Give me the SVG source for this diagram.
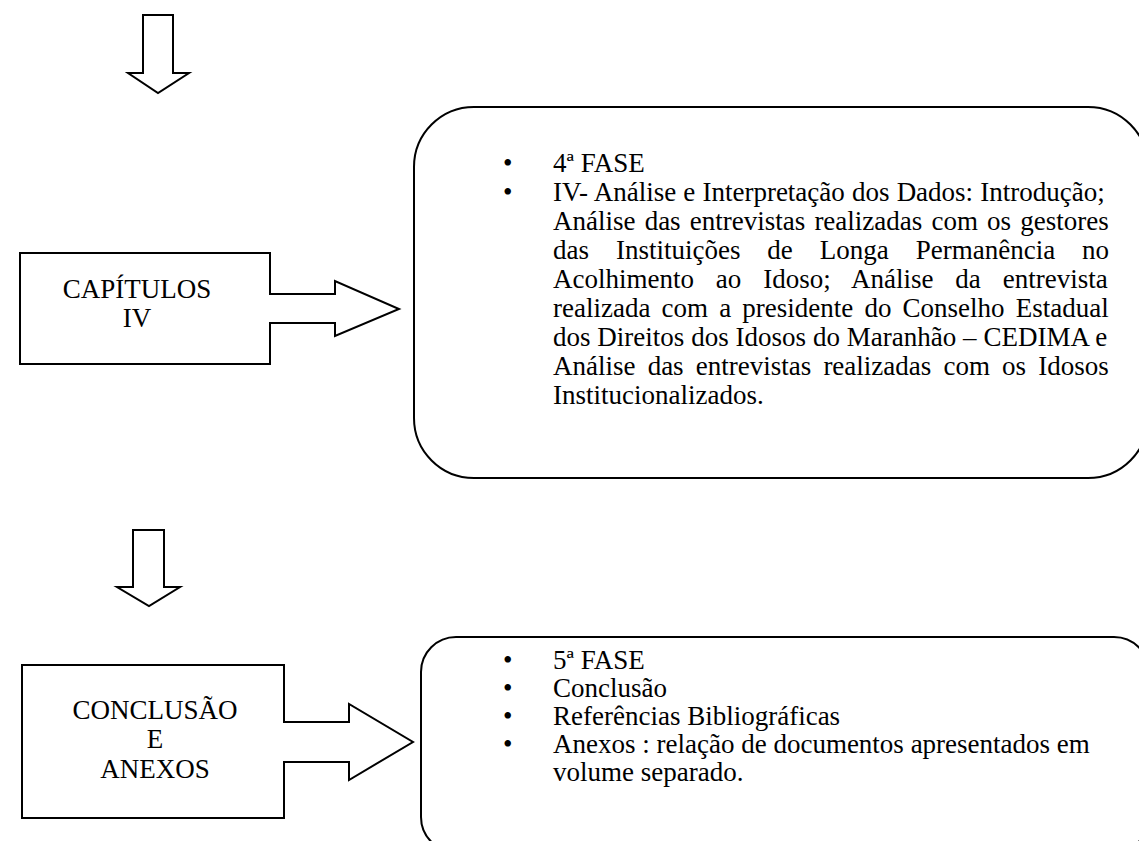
<svg xmlns="http://www.w3.org/2000/svg" width="1139" height="841" viewBox="0 0 1139 841">
<style>
.s{fill:#fff;stroke:#000;stroke-width:2;stroke-linejoin:miter}
.t{font-family:"Liberation Serif","Times New Roman","DejaVu Serif",serif;font-size:27px;fill:#000}
.c{text-anchor:middle}
</style>
<rect width="1139" height="841" fill="#fff"/>
<g id="connectors">
<polygon class="s" points="143,15 173,15 173,73 189,73 158,93 128,73 143,73"/>
<polygon class="s" points="133,530 164,530 164,587 180,587 149,606 117,587 133,587"/>
</g>
<g id="cap4">
<polygon class="s" points="20,253 270,253 270,294 335,294 335,281 399,309 335,336 335,323 270,323 270,364 20,364"/>
<text class="t c" x="137" y="298">CAPÍTULOS</text>
<text class="t c" x="137" y="327">IV</text>
</g>
<g id="fase4">
<rect class="s" x="414" y="107" width="734" height="371" rx="60" ry="60"/>
<text class="t" x="503" y="172">•</text>
<text class="t" x="553" y="172">4ª FASE</text>
<text class="t" x="503" y="201">•</text>
<text class="t" x="553" y="201" word-spacing="0.4">IV- Análise e Interpretação dos Dados: Introdução;</text>
<text class="t" x="553" y="230" word-spacing="2.4">Análise das entrevistas realizadas com os gestores</text>
<text class="t" x="553" y="259" word-spacing="20.2">das Instituições de Longa Permanência no</text>
<text class="t" x="553" y="288" word-spacing="15.1">Acolhimento ao Idoso; Análise da entrevista</text>
<text class="t" x="553" y="317" word-spacing="4.4">realizada com a presidente do Conselho Estadual</text>
<text class="t" x="553" y="346" word-spacing="0.1">dos Direitos dos Idosos do Maranhão – CEDIMA e</text>
<text class="t" x="553" y="375" word-spacing="5.4">Análise das entrevistas realizadas com os Idosos</text>
<text class="t" x="553" y="404">Institucionalizados.</text>
</g>
<g id="conclusao">
<polygon class="s" points="22,665 284,665 284,722 349,722 349,704 413,742 349,780 349,762 284,762 284,818 22,818"/>
<text class="t c" x="155" y="719">CONCLUSÃO</text>
<text class="t c" x="155" y="748">E</text>
<text class="t c" x="155" y="778">ANEXOS</text>
</g>
<g id="fase5">
<rect class="s" x="421" y="637" width="728" height="215" rx="35" ry="35"/>
<text class="t" x="503" y="669">•</text>
<text class="t" x="553" y="669">5ª FASE</text>
<text class="t" x="503" y="697">•</text>
<text class="t" x="553" y="697">Conclusão</text>
<text class="t" x="503" y="725">•</text>
<text class="t" x="553" y="725">Referências Bibliográficas</text>
<text class="t" x="503" y="753">•</text>
<text class="t" x="553" y="753">Anexos : relação de documentos apresentados em</text>
<text class="t" x="553" y="781">volume separado.</text>
</g>
</svg>
